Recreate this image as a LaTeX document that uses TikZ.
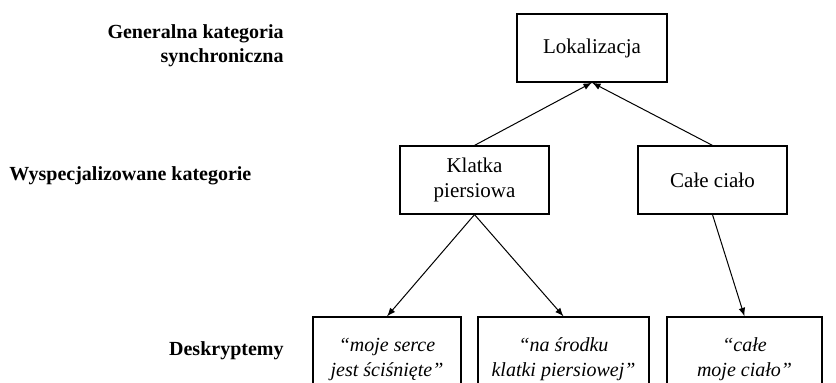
\documentclass[tikz,border=0pt]{standalone}
\usepackage{fontspec}
\setmainfont{Liberation Serif}
\usepackage{tikz}

\begin{document}
\begin{tikzpicture}[x=0.5pt,y=-0.5pt,
  box/.style={draw,line width=0.6pt,align=center,inner sep=2pt,minimum height=34pt,font=\fontsize{10.5}{12.5}\selectfont},
  desc/.style={draw,line width=0.6pt,align=center,inner sep=2pt,minimum height=42pt,font=\fontsize{10}{12.5}\selectfont\itshape},
  lbl/.style={font=\bfseries,inner sep=0pt},
  link/.style={-latex,line width=0.5pt}]
\useasboundingbox (0,0) rectangle (836,382);
\clip (0,0) rectangle (836,382);

\draw (592,48) node[box,minimum width=75pt] (LOK) {Lokalizacja};
\draw (474.5,180) node[box,minimum width=74.5pt] (KP) {Klatka\\piersiowa};
\draw (712.5,180) node[box,minimum width=74.5pt] (CC) {Całe ciało};

\draw (387,359) node[desc,minimum width=74pt] (D1) {“moje serce\\jest ściśnięte”};
\draw (563.5,359) node[desc,minimum width=85.5pt] (D2) {“na środku\\klatki piersiowej”};
\draw (744.5,359) node[desc,minimum width=77.5pt] (D3) {“całe\\moje ciało”};

\draw (284,46) node[lbl,anchor=east,align=right] (GEN) {Generalna kategoria\\synchroniczna};
\draw (9,176) node[lbl,anchor=west] (WYS) {Wyspecjalizowane kategorie};
\draw (284,351) node[lbl,anchor=east] (DES) {Deskryptemy};

\draw[link] (KP.north)--(LOK.south);
\draw[link] (CC.north)--(LOK.south);
\draw[link] (KP.south)--(D1.north);
\draw[link] (KP.south)--(D2.north);
\draw[link] (CC.south)--(D3.north);

\end{tikzpicture}
\end{document}
